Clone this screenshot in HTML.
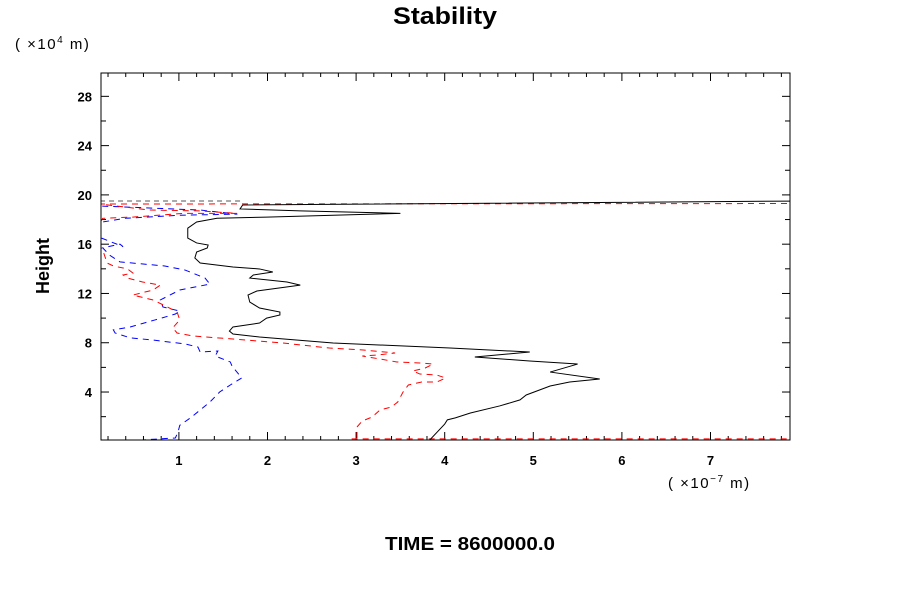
<!DOCTYPE html>
<html><head><meta charset="utf-8"><style>
html,body{margin:0;padding:0;background:#fff;width:900px;height:600px;overflow:hidden}
text{font-family:"Liberation Sans",sans-serif}
</style></head><body>
<svg id="chart" width="900" height="600" viewBox="0 0 900 600" xmlns="http://www.w3.org/2000/svg">
<defs><clipPath id="pc"><rect x="101" y="73" width="689" height="367"/></clipPath></defs>
<rect width="900" height="600" fill="#fff"/>
<text x="445" y="24" text-anchor="middle" font-size="24" font-weight="bold" textLength="104" lengthAdjust="spacingAndGlyphs">Stability</text>
<text x="15" y="49" font-size="15" letter-spacing="1.5">( ×10<tspan font-size="10" dy="-6">4</tspan><tspan dy="6">  m)</tspan></text>
<text transform="translate(49,266) rotate(-90)" text-anchor="middle" font-size="18" font-weight="bold">Height</text>
<text x="668" y="488" font-size="15" letter-spacing="1.5">( ×10<tspan font-size="10" dy="-6">−7</tspan><tspan dy="6">  m)</tspan></text>
<text x="470" y="550" text-anchor="middle" font-size="18" font-weight="bold" textLength="170" lengthAdjust="spacingAndGlyphs">TIME = 8600000.0</text>
<g id="axes"></g>
<g id="series" clip-path="url(#pc)"></g>
<rect x="101" y="73" width="689" height="367" fill="none" stroke="#000" stroke-width="1"/>
</svg>
<script>
const xTicks=[1,2,3,4,5,6,7];
const yTicks=[4,8,12,16,20,24,28];
const blackX=[3.83,4.0,4.03,4.12,4.29,4.62,4.85,4.92,5.19,5.41,5.75,5.19,5.5,4.96,4.34,4.96,4.06,2.74,1.91,1.61,1.57,1.61,1.91,1.99,2.14,2.14,1.91,1.8,1.78,1.88,2.37,2.22,1.8,1.84,2.06,1.91,1.61,1.24,1.18,1.2,1.32,1.33,1.2,1.1,1.1,1.2,1.43,1.99,3.5,2.37,1.69,1.72,7.95];
const blackY=[0.1,1.4,1.74,1.9,2.3,2.87,3.36,3.76,4.49,4.81,5.06,5.62,6.27,6.52,6.84,7.25,7.57,7.98,8.47,8.71,8.95,9.28,9.6,10.0,10.25,10.49,10.82,11.3,11.87,12.2,12.68,12.93,13.25,13.5,13.74,13.99,14.15,14.47,14.88,15.36,15.69,15.93,16.1,16.5,17.3,17.8,18.1,18.2,18.5,18.7,18.86,19.18,19.5];
const redX=[3.01,3.01,3.07,3.18,3.27,3.4,3.47,3.53,3.59,3.74,3.91,4.01,3.91,3.72,3.64,3.78,3.87,3.72,3.46,3.27,3.07,3.235,3.44,3.08,2.7,2.17,1.61,1.16,0.98,0.93,1.01,0.98,0.87,0.71,0.48,0.71,0.79,0.59,0.42,0.37,0.48,0.42,0.26,0.19,0.14,0.02,0.14,0.48,1.05,1.66,1.24,0.67,0.11,7.95];
const redY=[0.27,1.16,1.65,1.97,2.54,2.79,3.19,4.0,4.57,4.81,4.81,5.14,5.38,5.46,5.71,5.95,6.27,6.36,6.44,6.68,6.92,7.0,7.17,7.41,7.57,7.98,8.3,8.55,8.79,9.2,9.85,10.49,10.9,11.47,11.87,12.28,12.68,12.93,13.25,13.5,13.66,13.99,14.23,14.47,15.53,16.8,18.1,18.2,18.5,18.5,18.7,18.77,19.26,19.3];
const redBottomX=[2.95,7.95];
const redBottomY=[0.2,0.2];
const blueX=[0.56,0.96,0.99,1.01,1.13,1.24,1.35,1.46,1.58,1.71,1.655,1.6,1.58,1.41,1.44,1.24,1.215,1.07,0.73,0.45,0.28,0.26,0.45,0.73,0.96,1.01,0.82,0.79,1.01,1.35,1.295,1.07,0.84,0.335,0.22,0.14,0.335,0.37,0.02,0.14,0.39,1.01,1.66,1.24,0.45,0.11];
const blueY=[0.1,0.27,0.76,1.3,1.9,2.54,3.19,4.0,4.57,5.14,5.62,6.1,6.44,6.92,7.33,7.25,7.65,7.9,8.2,8.4,8.79,9.04,9.28,9.85,10.33,10.57,10.9,11.47,12.28,12.76,13.25,13.9,14.23,14.56,15.1,15.7,16.0,15.8,16.8,17.8,18.1,18.35,18.44,18.77,19.0,19.1];
const grayX=[0.11,1.7];
const grayY=[19.5,19.5];

const NS="http://www.w3.org/2000/svg";
function sx(v){return 90.3+v*88.6;}
function sy(v){return 441.3-v*12.32;}
const axes=document.getElementById('axes');
const ser=document.getElementById('series');
function line(x1,y1,x2,y2,p){const l=document.createElementNS(NS,'line');l.setAttribute('x1',x1);l.setAttribute('y1',y1);l.setAttribute('x2',x2);l.setAttribute('y2',y2);l.setAttribute('stroke','#000');l.setAttribute('stroke-width',1);p.appendChild(l);return l;}
for(let i=1;i<40;i++){const v=i*0.2;if(sx(v)<=101||sx(v)>=790)continue;const X=sx(v);const major=Math.abs(v-Math.round(v))<1e-6;const len=major?8:4;
const t1=line(X,440,X,440-len,axes);


const t2=line(X,73,X,73+len,axes);

}
xTicks.forEach(v=>{const t=document.createElementNS(NS,'text');t.setAttribute('x',sx(v));t.setAttribute('y',465);t.setAttribute('text-anchor','middle');t.setAttribute('font-size','13');t.setAttribute('font-weight','bold');t.textContent=v;


axes.appendChild(t);});
for(let v=2;v<30;v+=2){const Y=sy(v);const major=v%4===0;const len=major?8:5;
const t1=line(101,Y,101+len,Y,axes);


const t2=line(790,Y,790-len,Y,axes);

}
yTicks.forEach(v=>{const t=document.createElementNS(NS,'text');t.setAttribute('x',92);t.setAttribute('y',sy(v)+5);t.setAttribute('text-anchor','end');t.setAttribute('font-size','13');t.setAttribute('font-weight','bold');t.textContent=v;


axes.appendChild(t);});
function path(xs,ys,color,dash,name){const p=document.createElementNS(NS,'polyline');p.setAttribute('points',xs.map((x,i)=>sx(x)+','+sy(ys[i])).join(' '));p.setAttribute('fill','none');p.setAttribute('stroke',color);p.setAttribute('stroke-width',1);if(dash)p.setAttribute('stroke-dasharray',dash);


ser.appendChild(p);}
path(grayX,grayY,'#555','5,4','gray-dashed-series');
path(blueX,blueY,'#0000ff','6,5','blue-dashed-series');
path(redX,redY,'#ff0000','6,5','red-dashed-series');
path(redBottomX,redBottomY,'#ff0000','6,5','red-bottom-series');
path(blackX,blackY,'#000','','black-solid-series');
</script>
</body></html>
